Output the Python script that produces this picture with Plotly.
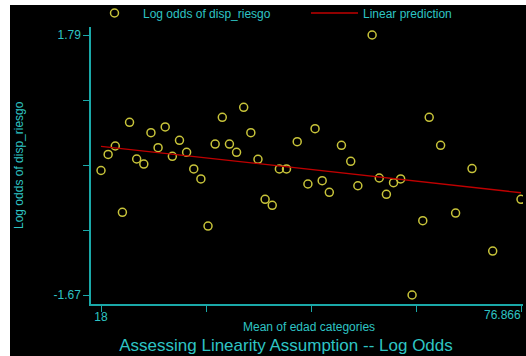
import plotly.graph_objects as go

# Mean age of each edad category and the empirical log odds of disp_riesgo
edad_mean = [18, 19, 20, 21, 22, 23, 24, 25, 26, 27, 28, 29, 30, 31, 32, 33,
             34, 35, 36, 37, 38, 39, 40, 41, 42, 43, 44, 45.5, 47, 48, 49, 50,
             51.7, 53, 54, 56, 57, 58, 59, 60, 61.6, 63.1, 64, 65.6, 67.7, 70,
             72.9, 76.866]
log_odds = [-0.013, 0.200, 0.313, -0.569, 0.628, 0.140, 0.073, 0.490, 0.290,
            0.566, 0.176, 0.389, 0.229, 0.007, -0.126, -0.752, 0.339, 0.695,
            0.339, 0.229, 0.828, 0.490, 0.136, -0.397, -0.476, 0.007, 0.007,
            0.370, -0.193, 0.543, -0.149, -0.303, 0.322, 0.109, -0.216, 1.79,
            -0.113, -0.330, -0.176, -0.126, -1.67, -0.681, 0.695, 0.322,
            -0.579, 0.013, -1.085, -0.397]

# Linear prediction at the ends of the age range
pred_x = [18, 76.866]
pred_y = [0.309, -0.309]

# Axis ticks: five evenly spaced, only the extremes labelled
x_ticks = [18, 32.7165, 47.433, 62.1495, 76.866]
x_ticktext = ["18", "", "", "", ""]
y_ticks = [1.79, 0.925, 0.06, -0.805, -1.67]
y_ticktext = ["1.79", "", "", "", "-1.67"]

W, H = 526, 356
ML, MR, MT, MB = 91, 3, 27, 52
PW, PH = W - ML - MR, H - MT - MB

# Data region sits inside the axes with a small gap (pixels)
x_px_per = (x_ticks[-1] - x_ticks[0]) / 420.0
y_px_per = (y_ticks[0] - y_ticks[-1]) / 260.0
x_range = [x_ticks[0] - 10 * x_px_per, x_ticks[-1] + 2 * x_px_per]
y_range = [y_ticks[-1] - 9 * y_px_per, y_ticks[0] + 8 * y_px_per]

AXIS = "#1aa8a8"
TEXT = "#2ec4c4"
FONT = "Liberation Sans, Arial, sans-serif"
FS = 12


def px_x(p):
    return (p - ML) / PW


def px_y(p):
    return (H - MB - p) / PH


fig = go.Figure()
fig.add_trace(go.Scatter(
    x=edad_mean, y=log_odds, mode="markers", name="Log odds of disp_riesgo",
    marker=dict(symbol="circle-open", size=8, color="#c8c43a",
                line=dict(width=1.5, color="#c8c43a")),
    legend="legend",
))
fig.add_trace(go.Scatter(
    x=pred_x, y=pred_y, mode="lines", name="Linear prediction",
    line=dict(color="#c00000", width=1.3),
    legend="legend2",
))

# white strips along the left and top edges of the canvas
shapes = [
    dict(type="rect", xref="paper", yref="paper", x0=px_x(-2), x1=px_x(10),
         y0=px_y(H + 5), y1=px_y(-5), fillcolor="white", line_width=0,
         layer="above"),
    dict(type="rect", xref="paper", yref="paper", x0=px_x(-2), x1=px_x(W + 5),
         y0=px_y(5), y1=px_y(-5), fillcolor="white", line_width=0,
         layer="above"),
]

annotations = [
    dict(text="76.866", x=x_ticks[-1], xref="x", y=px_y(315), yref="paper",
         xanchor="right", yanchor="middle", xshift=2, showarrow=False,
         font=dict(family=FONT, size=FS, color=TEXT)),
    dict(text="Mean of edad categories", x=px_x(309), xref="paper",
         y=px_y(327), yref="paper", xanchor="center", yanchor="middle",
         showarrow=False, font=dict(family=FONT, size=FS, color=TEXT)),
    dict(text="Log odds of disp_riesgo", x=px_x(19), xref="paper",
         y=px_y(165), yref="paper", xanchor="center", yanchor="middle",
         textangle=-90, showarrow=False,
         font=dict(family=FONT, size=FS, color=TEXT)),
]

legend_style = dict(orientation="h", xanchor="left", yanchor="middle",
                    bgcolor="rgba(0,0,0,0)", itemwidth=47,
                    font=dict(family=FONT, size=FS, color=TEXT))

fig.update_layout(
    width=W, height=H,
    margin=dict(l=ML, r=MR, t=MT, b=MB, autoexpand=False),
    paper_bgcolor="black", plot_bgcolor="black",
    font=dict(family=FONT, size=FS, color=TEXT),
    title=dict(text="Assessing Linearity Assumption -- Log Odds",
               x=286 / W, xref="container", xanchor="center",
               y=1 - 345 / H, yref="container", yanchor="middle",
               font=dict(family=FONT, size=17, color=TEXT)),
    showlegend=True,
    legend=dict(x=px_x(86), y=px_y(13), **legend_style),
    legend2=dict(x=px_x(306), y=px_y(13), **legend_style),
    shapes=shapes,
    annotations=annotations,
)
fig.update_xaxes(range=x_range, tickvals=x_ticks, ticktext=x_ticktext,
                 showgrid=False, zeroline=False, showline=True,
                 linecolor=AXIS, linewidth=1.5, ticks="outside", ticklen=6,
                 tickcolor=AXIS, tickwidth=1.3, ticklabelstandoff=-5,
                 tickfont=dict(family=FONT, size=FS, color=TEXT))
fig.update_yaxes(range=y_range, tickvals=y_ticks, ticktext=y_ticktext,
                 showgrid=False, zeroline=False, showline=True,
                 linecolor=AXIS, linewidth=1.5, ticks="outside", ticklen=6,
                 tickcolor=AXIS, tickwidth=1.3,
                 tickfont=dict(family=FONT, size=FS, color=TEXT))

fig.write_html("out.html")
